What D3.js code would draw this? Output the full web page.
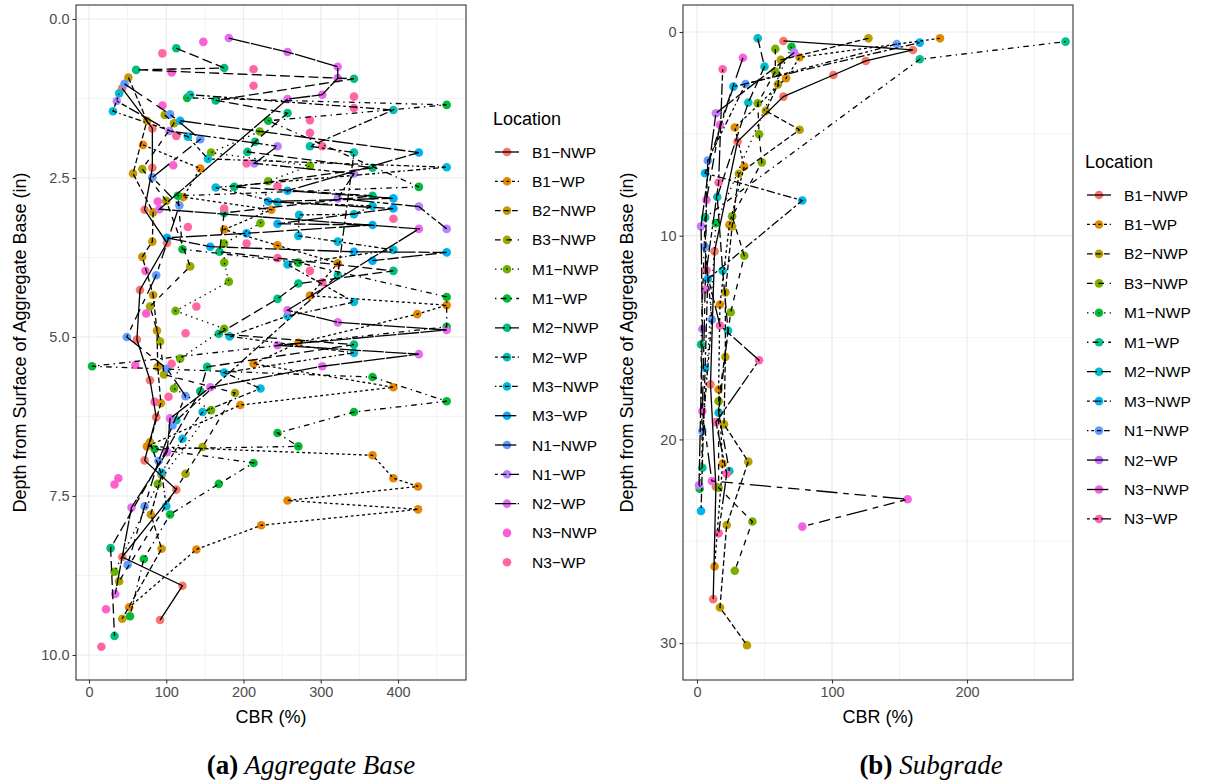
<!DOCTYPE html>
<html><head><meta charset="utf-8">
<script src="https://cdn.jsdelivr.net/npm/d3@7"></script>
<style>
body{margin:0;background:#fff}
svg text{font-family:"Liberation Sans",Arial,sans-serif}
</style></head>
<body><svg id="chart" width="1219" height="781"></svg>
<script>
// ---------- categories & ticks ----------
const baseLocations = ["B1−NWP","B1−WP","B2−NWP","B3−NWP","M1−NWP","M1−WP","M2−NWP","M2−WP","M3−NWP","M3−WP","N1−NWP","N1−WP","N2−WP","N3−NWP","N3−WP"];
const subLocations  = ["B1−NWP","B1−WP","B2−NWP","B3−NWP","M1−NWP","M1−WP","M2−NWP","M3−NWP","N1−NWP","N2−WP","N3−NWP","N3−WP"];
const baseXTicks = [0,100,200,300,400];
const baseYTicks = [0,2.5,5,7.5,10];
const baseYTickLabels = ["0.0","2.5","5.0","7.5","10.0"];
const subXTicks = [0,100,200];
const subYTicks = [0,10,20,30];

// ---------- (a) Aggregate Base : [CBR %, depth in] ----------
const baseB1NWP = [[43,1.09],[82,1.72],[82,2.34],[72,3.00],[101,3.52],[66,4.26],[62,5.04],[79,5.68],[87,6.26],[72,6.94],[113,7.40],[43,8.46],[121,8.91],[92,9.45]];
const baseB1WP  = [[70,1.98],[144,2.35],[122,2.80],[236,3.00],[175,3.31],[244,3.56],[322,3.84],[286,4.35],[463,4.50],[425,4.64],[271,5.09],[213,5.42],[394,5.79],[196,6.07],[75,6.72],[367,6.86],[394,7.22],[426,7.35],[257,7.57],[426,7.71],[223,7.96],[139,8.34],[52,9.25]];
const baseB2NWP = [[51,0.92],[75,1.60],[57,2.43],[83,3.04],[82,3.50],[69,3.74],[83,4.34],[88,4.90],[89,5.47],[93,6.04],[79,6.65],[94,7.17],[80,7.79],[94,8.33],[43,9.43]];
const baseB3NWP = [[98,1.51],[110,1.64],[69,2.36],[100,2.86],[131,3.89],[79,4.52],[92,5.07],[97,5.59],[189,5.88],[147,6.73],[125,7.15],[39,8.84]];
const baseM1NWP = [[221,1.77],[158,2.10],[286,2.31],[232,2.55],[222,3.21],[175,3.53],[175,3.83],[181,4.13],[112,4.59],[175,4.87],[118,5.34],[110,5.81],[158,6.15],[89,7.31],[33,8.69]];
const baseM1WP  = [[127,1.24],[463,1.35],[232,1.60],[427,2.64],[115,2.78],[121,3.62],[271,3.83],[463,4.37],[463,4.84],[4,5.46],[367,5.63],[463,6.01],[343,6.18],[244,6.51],[271,6.72],[85,6.76],[213,6.98],[168,7.31],[105,7.79],[71,8.49],[53,9.39]];
const baseM2NWP = [[113,0.46],[175,0.77],[61,0.80],[343,0.94],[164,1.28],[257,1.48],[215,1.93],[205,2.09],[367,2.34],[188,2.64],[367,2.78],[175,3.05],[169,3.66],[394,3.96],[271,4.16],[244,4.40],[168,4.95],[343,5.12],[153,5.47],[144,5.85],[28,8.32],[33,9.70]];
const baseM2WP  = [[131,1.19],[394,1.43],[286,2.00],[343,2.10],[322,4.03],[113,6.31]];
const baseM3NWP = [[39,1.17],[31,1.45],[128,1.85],[154,2.20],[463,2.33],[164,2.65],[244,2.88],[367,2.94],[343,3.07],[272,3.08],[271,3.41],[322,3.50],[394,3.63],[257,3.86],[343,4.45],[257,4.67],[182,4.99],[343,5.25],[175,5.56],[222,5.81],[147,6.18],[121,6.60],[94,7.13],[100,7.66]];
const baseM3WP  = [[118,1.60],[427,2.10],[257,2.70],[394,2.82],[232,2.87],[394,2.98],[244,3.22],[367,3.24],[204,3.37],[101,3.44],[157,3.58],[343,3.66],[463,3.67],[367,3.80]];
const baseN1NWP = [[46,1.02],[105,1.50],[144,1.89],[82,2.49],[117,2.93],[87,4.03],[49,5.00],[101,5.50],[125,5.93],[108,6.39],[90,6.95],[72,7.66],[50,8.58]];
const baseN1WP  = [[36,1.29],[104,1.76],[244,2.00],[214,2.27],[343,2.43],[322,2.82],[427,2.95],[463,3.30]];
const baseN2WP  = [[181,0.30],[257,0.52],[322,0.75],[322,0.93],[302,1.19],[257,1.26],[91,2.99],[427,3.30],[257,4.58],[322,4.77],[463,4.89],[244,5.13],[427,5.27],[302,5.46],[157,5.79],[105,6.28],[101,6.81],[55,7.68],[34,9.04]];
const baseN3NWP = [[148,0.36],[107,0.84],[95,1.36],[109,2.30],[89,2.87],[73,3.96],[74,4.63],[60,5.44],[38,7.22],[33,7.32],[22,9.28]];
const baseN3WP  = [[95,0.54],[213,0.79],[213,1.05],[343,1.22],[343,1.40],[286,1.59],[286,1.79],[113,1.84],[302,2.00],[204,2.27],[244,2.63],[175,2.98],[394,3.14],[128,3.27],[204,3.53],[244,3.76],[286,3.96],[302,4.14],[139,4.52],[125,4.94],[107,5.42],[103,5.94],[85,6.02],[16,9.87]];
const baseValues = [baseB1NWP,baseB1WP,baseB2NWP,baseB3NWP,baseM1NWP,baseM1WP,baseM2NWP,baseM2WP,baseM3NWP,baseM3WP,baseN1NWP,baseN1WP,baseN2WP,baseN3NWP,baseN3WP];

// ---------- (b) Subgrade : [CBR %, depth in] ----------
const subB1NWP = [[64,0.44],[160,0.88],[125,1.42],[101,2.11],[64,3.17],[30,5.38],[13,10.77],[10,17.30],[14,22.32],[12,27.84]];
const subB1WP  = [[180,0.31],[76,1.24],[66,2.27],[28,4.69],[35,6.60],[24,9.46],[17,13.38],[16,17.55],[19,21.19],[13,26.24]];
const subB2NWP = [[127,0.31],[62,1.37],[60,2.57],[51,3.87],[76,4.80],[31,6.96],[26,9.55],[21,12.78],[21,15.95],[20,19.26],[38,21.09],[22,24.20],[17,28.25],[37,30.10]];
const subB3NWP = [[58,0.83],[58,1.94],[45,3.50],[46,5.02],[48,6.40],[26,9.05],[35,10.98],[25,13.76],[16,18.12],[16,22.37],[41,24.03],[28,26.45]];
const subM1NWP = [[70,0.72],[14,9.38],[2,22.42]];
const subM1WP  = [[273,0.47],[165,1.34],[6,9.10],[3,15.34],[4,21.39]];
const subM2NWP = [[45,0.31],[50,1.70],[38,3.46],[15,8.10],[19,11.72],[23,14.66],[16,18.69],[24,21.55]];
const subM3NWP = [[165,0.52],[27,2.68],[6,6.93],[78,8.27],[8,12.12],[6,16.49],[3,23.51]];
const subN1NWP = [[148,0.59],[36,2.55],[8,6.31],[6,10.55],[11,14.12],[4,19.59]];
const subN2WP  = [[72,1.01],[14,3.99],[3,9.54],[4,14.58],[1.5,22.25]];
const subN3NWP = [[34,1.26],[17,4.56],[7,8.24],[6,12.65],[4,18.61],[11,22.04],[156,22.94],[78,24.28]];
const subN3WP  = [[19,1.83],[16,7.39],[7,11.70],[17,14.41],[46,16.11],[14,19.15],[22,21.68],[16,24.61]];
const subValues = [subB1NWP,subB1WP,subB2NWP,subB3NWP,subM1NWP,subM1WP,subM2NWP,subM3NWP,subN1NWP,subN2WP,subN3NWP,subN3WP];

// ---------- styles ----------
const pal15 = ["#F8766D","#E58700","#C99800","#A3A500","#6BB100","#00BA38","#00BF7D","#00C0AF","#00BCD8","#00B0F6","#619CFF","#B983FF","#E76BF3","#FD61D1","#FF67A4"];
const pal12 = ["#F8766D","#DE8C00","#B79F00","#7CAE00","#00BA38","#00C08B","#00BFC4","#00B4F0","#619CFF","#C77CFF","#F564E3","#FF64B0"];
const lineTypes = ["solid","22","42","44","13","1343","73","2262","12223242","F282","F4448444","224282F2","F1"];
const LW = 1.3, DU = 1.42, PR = 4.3;
function dash(lt){ if(!lt || lt==="solid") return null; return lt.split("").map(c=>parseInt(c,16)*DU).join(","); }

const svg = d3.select("#chart");

function panel(cfg){
  const {x0,x1,y0,y1,xd,yd,xticks,yticks,ylabels,xminor,yminor,names,values,pal,legX,legTitleY,legY0,legStep} = cfg;
  const x = d3.scaleLinear().domain(xd).range([x0,x1]);
  const y = d3.scaleLinear().domain(yd).range([y0,y1]);
  const g = svg.append("g");
  g.append("rect").attr("x",x0).attr("y",y0).attr("width",x1-x0).attr("height",y1-y0).attr("fill","#fff");
  const grid = g.append("g").attr("stroke","#EBEBEB");
  grid.selectAll(".mx").data(xminor).join("line").attr("x1",d=>x(d)).attr("x2",d=>x(d)).attr("y1",y0).attr("y2",y1).attr("stroke-width",0.6);
  grid.selectAll(".my").data(yminor).join("line").attr("y1",d=>y(d)).attr("y2",d=>y(d)).attr("x1",x0).attr("x2",x1).attr("stroke-width",0.6);
  grid.selectAll(".Mx").data(xticks).join("line").attr("x1",d=>x(d)).attr("x2",d=>x(d)).attr("y1",y0).attr("y2",y1).attr("stroke-width",1.2);
  grid.selectAll(".My").data(yticks).join("line").attr("y1",d=>y(d)).attr("y2",d=>y(d)).attr("x1",x0).attr("x2",x1).attr("stroke-width",1.2);

  const clip = "clip"+x0;
  g.append("clipPath").attr("id",clip).append("rect").attr("x",x0).attr("y",y0).attr("width",x1-x0).attr("height",y1-y0);
  const plot = g.append("g").attr("clip-path",`url(#${clip})`);
  values.forEach((arr,i)=>{
    plot.append("g").selectAll("circle").data(arr).join("circle")
      .attr("cx",d=>x(d[0])).attr("cy",d=>y(d[1])).attr("r",PR).attr("fill",pal[i]);
  });
  const line = d3.line().x(d=>x(d[0])).y(d=>y(d[1]));
  values.forEach((arr,i)=>{
    const lt = lineTypes[i];
    if(!lt) return;
    const sorted = arr.slice().sort((a,b)=>a[1]-b[1]);
    plot.append("path").attr("d",line(sorted)).attr("fill","none").attr("stroke","#000")
      .attr("stroke-width",LW).attr("stroke-dasharray",dash(lt));
  });
  g.append("rect").attr("x",x0).attr("y",y0).attr("width",x1-x0).attr("height",y1-y0)
    .attr("fill","none").attr("stroke","#333").attr("stroke-width",1.1);

  const xa = d3.axisBottom(x).tickValues(xticks).tickSize(3.5).tickPadding(3);
  const ya = d3.axisLeft(y).tickValues(yticks).tickSize(3.5).tickPadding(3).tickFormat((d,i)=>ylabels[i]);
  const gx = g.append("g").attr("transform",`translate(0,${y1})`).call(xa);
  const gy = g.append("g").attr("transform",`translate(${x0},0)`).call(ya);
  [gx,gy].forEach(a=>{
    a.select(".domain").remove();
    a.selectAll(".tick line").attr("stroke","#333").attr("stroke-width",1.1);
    a.selectAll(".tick text").attr("fill","#4D4D4D").style("font-size","14.5px").style("font-family","'Liberation Sans',Arial,sans-serif");
  });
  g.append("text").attr("x",(x0+x1)/2).attr("y",723).attr("text-anchor","middle").style("font-size","18px").text("CBR (%)");
  g.append("text").attr("transform",`translate(${x0-50},${(y0+y1)/2}) rotate(-90)`).attr("text-anchor","middle")
    .style("font-size","18px").text("Depth from Surface of Aggregate Base (in)");

  const lg = g.append("g");
  lg.append("text").attr("x",legX).attr("y",legTitleY).style("font-size","18px").text("Location");
  names.forEach((n,i)=>{
    const cy = legY0 + i*legStep;
    const lt = lineTypes[i];
    lg.append("circle").attr("cx",legX+14).attr("cy",cy).attr("r",PR).attr("fill",pal[i]);
    if(lt) lg.append("line").attr("x1",legX+2).attr("x2",legX+26).attr("y1",cy).attr("y2",cy)
      .attr("stroke","#000").attr("stroke-width",LW).attr("stroke-dasharray",dash(lt));
    lg.append("text").attr("x",legX+39).attr("y",cy+5.5).style("font-size","15.5px").text(n);
  });
}

panel({x0:76,x1:466,y0:5,y1:680,xd:[-16.83,488.0],yd:[-0.22,10.393],
  xticks:baseXTicks,yticks:baseYTicks,ylabels:baseYTickLabels,
  xminor:[50,150,250,350,450],yminor:[1.25,3.75,6.25,8.75],
  names:baseLocations,values:baseValues,pal:pal15,
  legX:493,legTitleY:125,legY0:152,legStep:29.3});

panel({x0:683,x1:1073,y0:5,y1:680,xd:[-10.37,278.5],yd:[-1.326,31.81],
  xticks:subXTicks,yticks:subYTicks,ylabels:subYTicks.map(String),
  xminor:[50,150,250],yminor:[5,15,25],
  names:subLocations,values:subValues,pal:pal12,
  legX:1085,legTitleY:168,legY0:195,legStep:29.45});

function caption(cx, lab, txt){
  const t = svg.append("text").attr("x",cx).attr("y",774).attr("text-anchor","middle")
    .style("font-family","'Liberation Serif','DejaVu Serif',serif").style("font-size","27px");
  t.append("tspan").style("font-weight","bold").text(lab);
  t.append("tspan").style("font-style","italic").text(" "+txt);
}
caption(311,"(a)","Aggregate Base");
caption(931,"(b)","Subgrade");
</script></body></html>
